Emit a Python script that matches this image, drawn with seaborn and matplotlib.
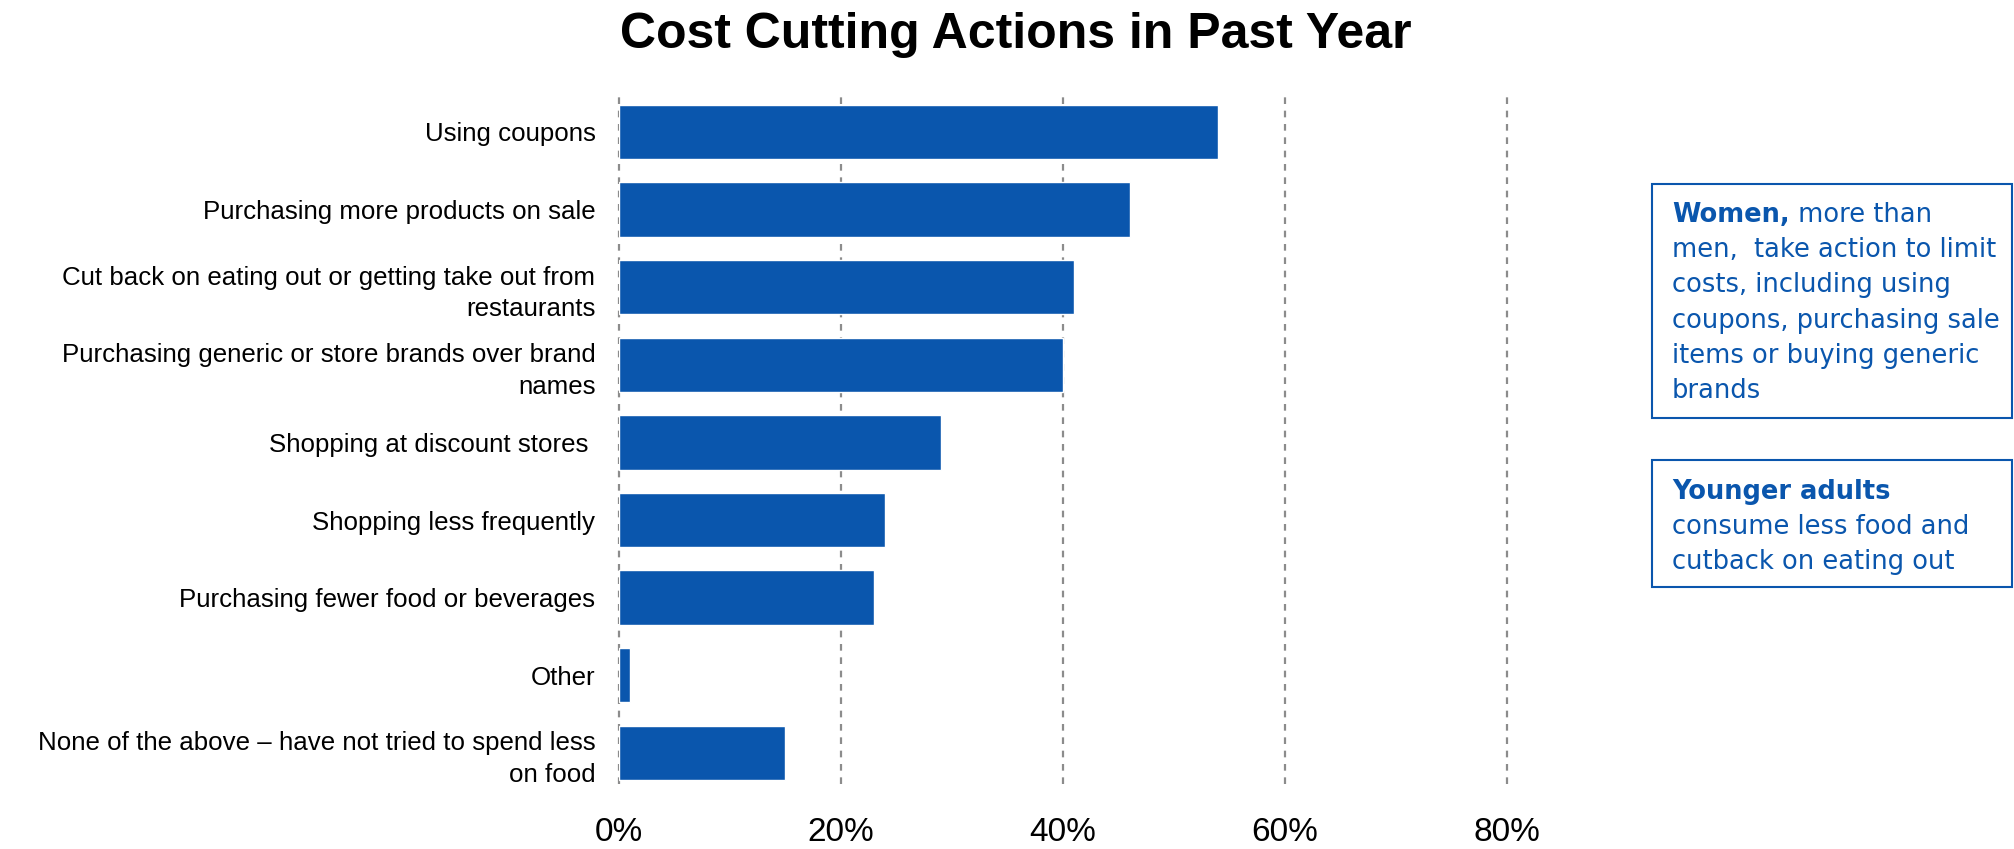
import matplotlib
matplotlib.use("Agg")
import matplotlib.pyplot as plt
import matplotlib.patches as patches
import seaborn as sns

# data
actions = ["Using coupons",
           "Purchasing more products on sale",
           "Cut back on eating out or getting take out from\nrestaurants",
           "Purchasing generic or store brands over brand\nnames",
           "Shopping at discount stores ",
           "Shopping less frequently",
           "Purchasing fewer food or beverages",
           "Other",
           "None of the above \u2013 have not tried to spend less\non food"]
pct = [54, 46, 41, 40, 29, 24, 23, 1, 15]
xticks = [0, 20, 40, 60, 80]

note1 = ["men,  take action to limit", "costs, including using",
         "coupons, purchasing sale", "items or buying generic", "brands"]
note2 = ["consume less food and", "cutback on eating out"]

blue = "#0A56AD"

sns.set_style("white")
plt.rcParams['font.family'] = ['Liberation Sans', 'DejaVu Sans']
plt.rcParams['text.color'] = 'black'
plt.rcParams['xtick.color'] = 'black'
plt.rcParams['ytick.color'] = 'black'

fig = plt.figure(figsize=(20.15, 8.49), dpi=100)
ax = fig.add_axes([619/2015, 1-784/849, (1507-619)/2015, (784-93)/849])

sns.barplot(x=pct, y=actions, orient="h", color=blue, width=0.7,
            saturation=1, ax=ax, zorder=3)

ax.set_xlim(0, 80)
ax.set_ylim(8.4, -0.5)
ax.set_xticks(xticks)
ax.set_xticklabels([f"{t}%" for t in xticks], fontsize=24)
ax.tick_params(axis="x", length=0, pad=24)
ax.tick_params(axis="y", length=0, pad=17, labelsize=18.6)
for lab in ax.get_yticklabels():
    lab.set_multialignment("right")
    lab.set_linespacing(1.4)
for t in xticks:
    ax.axvline(t, color="#8c8c8c", lw=1.6, ls=(0, (3, 3)), zorder=1,
               clip_on=False)
ax.grid(False)
for s in ax.spines.values():
    s.set_visible(False)
ax.set_xlabel("")
ax.set_ylabel("")

fig.text(1016/2015, 1-48/849, "Cost Cutting Actions in Past Year",
         ha="center", va="baseline", fontsize=36, fontweight="bold")

# note boxes
tfont = ['DejaVu Sans']
fs = 18.5
step = 35.2
fig.add_artist(patches.Rectangle((1652/2015, 1-418/849), 360/2015, 234/849,
                                 transform=fig.transFigure, fill=False,
                                 edgecolor=blue, lw=1.5))
fig.add_artist(patches.Rectangle((1652/2015, 1-587/849), 360/2015, 127/849,
                                 transform=fig.transFigure, fill=False,
                                 edgecolor=blue, lw=1.5))

b1 = fig.text(1672/2015, 1-222/849, "Women,", color=blue, fontsize=fs,
              fontweight="bold", family=tfont, va="baseline")
ax.annotate(" more than", xy=(1, 0), xycoords=b1, va="bottom",
            color=blue, fontsize=fs, family=tfont)
for i, line in enumerate(note1):
    fig.text(1672/2015, 1-(222+step*(i+1))/849, line, color=blue,
             fontsize=fs, family=tfont, va="baseline")

fig.text(1672/2015, 1-499/849, "Younger adults", color=blue, fontsize=fs,
         fontweight="bold", family=tfont, va="baseline")
for i, line in enumerate(note2):
    fig.text(1672/2015, 1-(499+step*(i+1))/849, line, color=blue,
             fontsize=fs, family=tfont, va="baseline")

fig.savefig("out.png", dpi=100)
